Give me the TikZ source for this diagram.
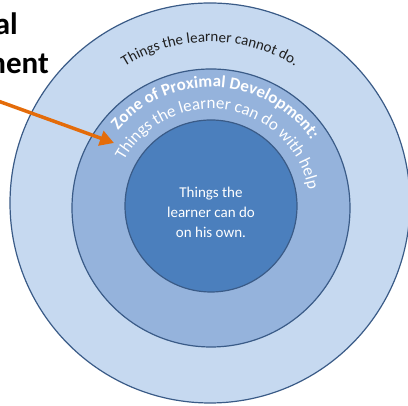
\documentclass[tikz,border=0pt]{standalone}
\usepackage{fontspec}
\setmainfont{Carlito}
\usetikzlibrary{arrows.meta,decorations.text}
\definecolor{ringouter}{HTML}{C6D9F0}
\definecolor{ringmid}{HTML}{95B3DC}
\definecolor{ringinner}{HTML}{4B7FBD}
\definecolor{ringline}{HTML}{3A5B87}
\definecolor{pointer}{HTML}{E46C0A}
\tikzset{
	ring/.style={draw=ringline,line width=1.2pt},
	arctext/.style={decorate,decoration={text along path,text align=center,#1}}
}
\begin{document}
\begin{tikzpicture}[x=1pt,y=1pt]
	\useasboundingbox (0,0) rectangle (408,406);
	\clip (0,0) rectangle (408,406);
	% Sentre
	\coordinate (co) at (210,203);
	\coordinate (cm) at (211,198);
	\coordinate (ci) at (211,200);
	% Ytre ring
	\filldraw[ring,fill=ringouter] (co) circle[radius=200pt];
	% Midtre ring
	\filldraw[ring,fill=ringmid] (cm) circle[radius=139pt];
	% Indre sirkel
	\filldraw[ring,fill=ringinner] (ci) circle[radius=86pt];
	% Tekst langs ytre ring
	\path[arctext={text color=black!88,text={|\fontsize{15}{18}\selectfont|Things the learner cannot do.}}]
		([shift={(165:161pt)}]co) arc[start angle=165,end angle=15,radius=161pt];
	% Tekst langs midtre ring
	\path[arctext={text color=white,text={|\bfseries\fontsize{17}{20}\selectfont|Zone of Proximal Development:}}]
		([shift={(167:121pt)}]cm) arc[start angle=167,end angle=7,radius=121pt];
	\path[arctext={text color=white,text={|\fontsize{17}{20}\selectfont|Things the learner can do with help}}]
		([shift={(170:99pt)}]cm) arc[start angle=170,end angle=-8,radius=99pt];
	% Indre tekst
	\node[align=center,text=white,font=\fontsize{15}{20}\selectfont] (own) at (211,194)
		{Things the\\learner can do\\on his own.};
	% Tittel (avkuttet)
	\node[anchor=base east,inner sep=0,font=\bfseries\fontsize{31}{37}\selectfont] (titleb) at (18,371) {al};
	\node[anchor=base east,inner sep=0,font=\bfseries\fontsize{31}{37}\selectfont] (titlec) at (49,332) {ment};
	% Pil
	\coordinate (tail) at (-2,305);
	\coordinate (tip) at (114,263);
	\draw[pointer,line width=3.5pt,-{Triangle[length=14pt,width=15pt]}] (tail) -- (tip);
\end{tikzpicture}
\end{document}
